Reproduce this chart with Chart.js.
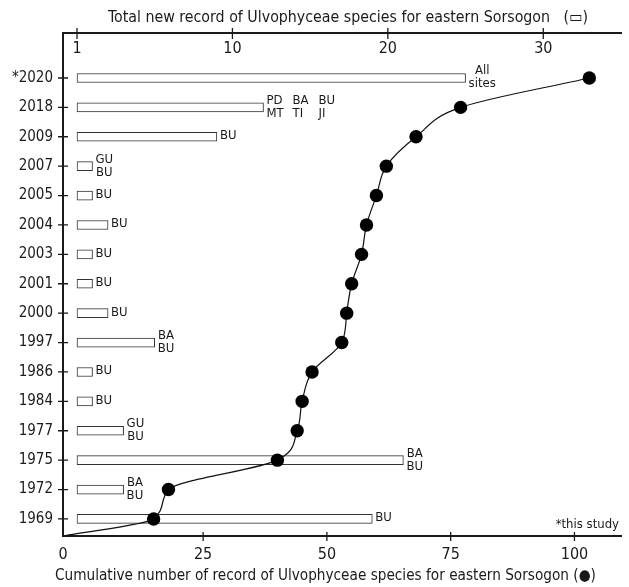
<!DOCTYPE html>
<html>
<head>
<meta charset="utf-8">
<script src="https://cdn.jsdelivr.net/npm/chart.js@4.4.1/dist/chart.umd.min.js"></script>
<style>
  html, body { margin: 0; padding: 0; background: #fff; }
</style>
</head>
<body>
<canvas id="chart" width="629" height="587"></canvas>
<script>
// years, bottom to top (the linear y axis goes up)
const years = ['1969', '1972', '1975', '1977', '1984', '1986', '1997', '2000', '2001', '2003', '2004', '2005', '2007', '2009', '2018', '*2020'];
// new records per year (bars, top axis)
const newRecords = [19, 3, 21, 3, 1, 1, 5, 2, 1, 1, 2, 1, 1, 9, 12, 25];
// cumulative records (dots, bottom axis)
const cumulative = [15, 18, 40, 44, 45, 47, 53, 54, 55, 57, 58, 60, 62, 68, 77, 103];
// sites next to each bar
const siteLabels = [
    ['BU'], ['BA', 'BU'], ['BA', 'BU'], ['GU', 'BU'], ['BU'], ['BU'], ['BA', 'BU'], ['BU'],
    ['BU'], ['BU'], ['BU'], ['BU'], ['GU', 'BU'], ['BU'], ['PD BA BU', 'MT TI JI'], ['All', 'sites']
];
const topTickValues = [0, 10, 20, 30];
const topTickLabels = ['1', '10', '20', '30'];

const X_TOP_MIN = -0.9, X_TOP_MAX = 35;
const X_BOT_MIN = -3.3, X_BOT_MAX = 109.4;
const Y_MIN = -0.58, Y_MAX = 16.53;

// the bottom axis starts its labels with 0 at the corner
const bottomTickValues = [X_BOT_MIN, 25, 50, 75, 100];
const bottomTickLabels = ['0', '25', '50', '75', '100'];

const FONT = "'DejaVu Sans Condensed', 'DejaVu Sans', sans-serif";
const INK = '#1a1a1a';

const decor = {
    id: 'decor',
    afterDatasetsDraw(chart) {
        const ctx = chart.ctx;
        const bars = chart.getDatasetMeta(0).data;
        ctx.save();
        ctx.fillStyle = INK;
        ctx.font = '13px ' + FONT;
        ctx.textBaseline = 'middle';
        bars.forEach((bar, i) => {
            const lines = siteLabels[i];
            const x0 = bar.x + 3;
            const widest = Math.max(...lines.map(l => ctx.measureText(l).width));
            lines.forEach((line, k) => {
                const y = lines.length === 1 ? bar.y - 1 : bar.y - 7 + k * 13;
                const parts = line.split(' ');
                if (parts.length > 1) {
                    ctx.textAlign = 'left';
                    parts.forEach((p, j) => ctx.fillText(p, x0 + j * 26, y));
                } else {
                    ctx.textAlign = 'center';
                    ctx.fillText(line, x0 + widest / 2, y);
                }
            });
        });
        ctx.restore();
    },
    afterDraw(chart) {
        const ctx = chart.ctx;
        const s = chart.scales;
        const area = chart.chartArea;
        ctx.save();
        ctx.strokeStyle = INK;
        ctx.lineWidth = 1.3;
        ctx.beginPath();
        years.forEach((_, i) => {
            const y = s.y.getPixelForValue(i);
            ctx.moveTo(area.left - 5, y);
            ctx.lineTo(area.left + 5, y);
        });
        topTickValues.forEach(v => {
            const x = s.xTop.getPixelForValue(v);
            ctx.moveTo(x, area.top - 5);
            ctx.lineTo(x, area.top + 6);
        });
        bottomTickValues.slice(1).forEach(v => {
            const x = s.xBot.getPixelForValue(v);
            ctx.moveTo(x, area.bottom - 4);
            ctx.lineTo(x, area.bottom + 5);
        });
        ctx.stroke();

        ctx.fillStyle = INK;
        ctx.textBaseline = 'alphabetic';
        ctx.textAlign = 'left';
        ctx.font = '15.8px ' + FONT;
        ctx.fillText('Total new record of Ulvophyceae species for eastern Sorsogon   (\u25AD)', 108, 22);
        ctx.font = '15.2px ' + FONT;
        ctx.fillText('Cumulative number of record of Ulvophyceae species for eastern Sorsogon (\u25CF)', 55, 580);
        ctx.textAlign = 'right';
        ctx.font = '13px ' + FONT;
        ctx.fillText('*this study', 619, 528);
        ctx.restore();
    }
};

const axisBorder = { display: true, color: INK, width: 2 };

new Chart(document.getElementById('chart'), {
    type: 'bar',
    data: {
        datasets: [
            {
                type: 'bar',
                data: newRecords.map((v, i) => ({ x: v, y: i })),
                xAxisID: 'xTop',
                yAxisID: 'y',
                backgroundColor: '#ffffff',
                borderColor: '#333333',
                borderWidth: 1,
                borderSkipped: false,
                barThickness: 9,
                order: 1
            },
            {
                type: 'line',
                indexAxis: 'y',
                data: [{ x: X_BOT_MIN, y: Y_MIN }].concat(cumulative.map((v, i) => ({ x: v, y: i }))),
                xAxisID: 'xBot',
                yAxisID: 'y',
                borderColor: '#111111',
                borderWidth: 1.2,
                cubicInterpolationMode: 'monotone',
                pointRadius: ctx => ctx.dataIndex === 0 ? 0 : 6.7,
                pointBackgroundColor: '#000000',
                pointBorderWidth: 0,
                clip: false,
                order: 0
            }
        ]
    },
    options: {
        responsive: false,
        animation: false,
        devicePixelRatio: 1,
        indexAxis: 'y',
        layout: { padding: { left: 0, right: 8, top: 0, bottom: 0 } },
        plugins: {
            legend: { display: false },
            tooltip: { enabled: false }
        },
        scales: {
            y: {
                type: 'linear',
                position: 'left',
                offset: false,
                min: Y_MIN,
                max: Y_MAX,
                afterFit: s => { s.width = 63; },
                afterBuildTicks: s => { s.ticks = years.map((_, i) => ({ value: i })); },
                ticks: {
                    callback: v => years[v],
                    padding: 10,
                    color: INK,
                    font: { family: FONT, size: 15 }
                },
                grid: { display: false, drawTicks: false },
                border: axisBorder
            },
            xTop: {
                type: 'linear',
                position: 'top',
                offset: false,
                min: X_TOP_MIN,
                max: X_TOP_MAX,
                afterFit: s => { s.height = 33; },
                afterBuildTicks: s => { s.ticks = topTickValues.map(v => ({ value: v })); },
                ticks: {
                    callback: v => topTickLabels[topTickValues.indexOf(v)],
                    mirror: true,
                    padding: 6,
                    maxRotation: 0,
                    color: INK,
                    font: { family: FONT, size: 16 }
                },
                grid: { display: false, drawTicks: false },
                border: axisBorder
            },
            xBot: {
                type: 'linear',
                position: 'bottom',
                offset: false,
                min: X_BOT_MIN,
                max: X_BOT_MAX,
                afterFit: s => { s.height = 51; },
                afterBuildTicks: s => { s.ticks = bottomTickValues.map(v => ({ value: v })); },
                ticks: {
                    callback: v => bottomTickLabels[bottomTickValues.indexOf(v)],
                    padding: 9,
                    maxRotation: 0,
                    color: INK,
                    font: { family: FONT, size: 16 }
                },
                grid: { display: false, drawTicks: false },
                border: axisBorder
            }
        }
    },
    plugins: [decor]
});
</script>
</body>
</html>
